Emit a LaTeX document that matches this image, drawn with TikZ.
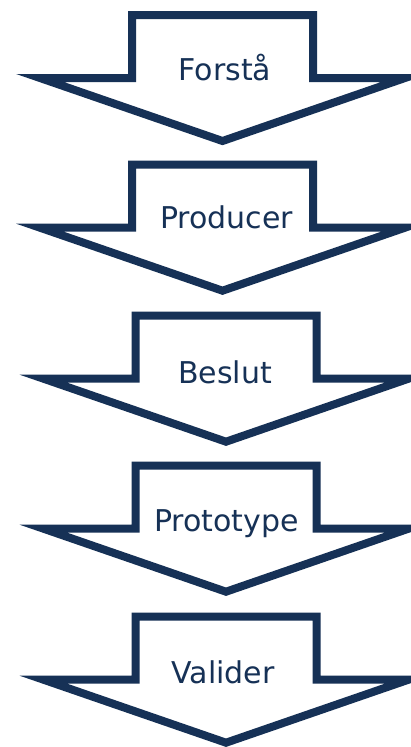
\documentclass[tikz,border=0pt]{standalone}
\usepackage{fontspec}
\setmainfont{DejaVu Sans}
\definecolor{navy}{RGB}{22,49,86}
\begin{document}
\begin{tikzpicture}[x=1pt,y=-1pt,
  outline/.style={draw=navy,line width=8pt,line join=miter,miter limit=10,fill=white},
  label/.style={anchor=base,text=navy,inner sep=0pt,font=\fontsize{30}{35}\selectfont},
  callout/.pic={
    \draw[outline] (-90.5,0) -- (90.5,0) -- (90.5,63) -- (182.5,63)
      -- (0,126) -- (-182.5,63) -- (-90.5,63) -- cycle;
  }]
  \useasboundingbox (0,0) rectangle (411,747);
  \clip (0,0) rectangle (411,747);
  \fill[white] (0,0) rectangle (411,747);

  % the five step arrows, top to bottom
  \pic at (222.5,15)   {callout};
  \pic at (222.5,164.7){callout};
  \pic at (226,315.7)  {callout};
  \pic at (226,465.7)  {callout};
  \pic at (226,616.7)  {callout};

  \node[label] (s1) at (225,80)    {Forstå};
  \node[label] (s2) at (226.5,228.3) {Producer};
  \node[label] (s3) at (225,383.3) {Beslut};
  \node[label] (s4) at (226.5,531.5) {Prototype};
  \node[label] (s5) at (223,683.3) {Valider};
\end{tikzpicture}
\end{document}
